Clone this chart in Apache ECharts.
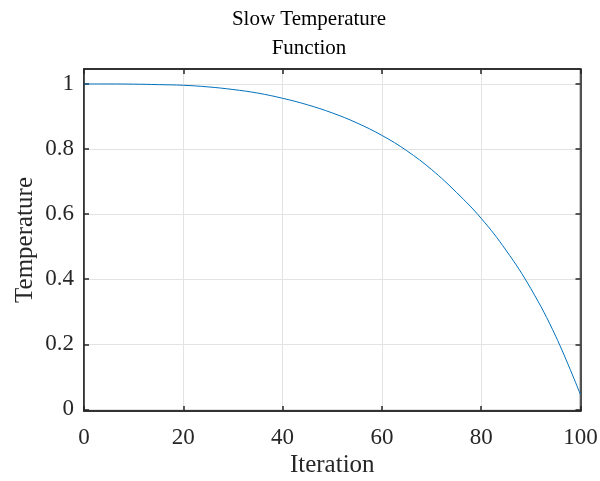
<!DOCTYPE html>
<html>
<head>
<meta charset="utf-8">
<script src="https://cdn.jsdelivr.net/npm/echarts@6/dist/echarts.min.js"></script>
<style>html,body{margin:0;padding:0;background:#fff}#c{width:600px;height:481px}</style>
</head>
<body>
<div id="c"></div>
<script>
const iterations = [0,5,10,15,20,25,30,35,40,45,50,55,60,65,70,75,80,85,90,95,100];
const temperature = [1.000,1.000,0.9995,0.998,0.996,0.991,0.983,0.972,0.956,0.936,0.911,0.880,0.842,0.795,0.737,0.667,0.587,0.489,0.371,0.225,0.045];
const yTicks = [0,0.2,0.4,0.6,0.8,1];
const xTicks = [0,20,40,60,80,100];
const titleText = 'Slow Temperature\nFunction';

const font = 'Liberation Serif';
const axisColor = '#262626';
const chart = echarts.init(document.getElementById('c'), null, {renderer:'canvas'});
const fmtY = v => (Math.abs(v) < 1e-9 ? '0' : String(+v.toFixed(1)));
chart.setOption({
  animation:false,
  backgroundColor:'#fff',
  title:{text:titleText,left:304,textAlign:'center',top:0,
    textStyle:{fontFamily:font,fontSize:21,fontWeight:'normal',color:'#000',lineHeight:29}},
  grid:{left:84,right:19.5,top:69,bottom:70,outerBoundsMode:'none',containLabel:false,show:true,borderColor:axisColor,borderWidth:1.5,backgroundColor:'transparent'},
  xAxis:[{type:'value',min:0,max:100,interval:20,position:'bottom',
    name:'Iteration',nameLocation:'middle',nameGap:42,nameMoveOverlap:false,
    nameTextStyle:{fontFamily:font,fontSize:25,color:'#262626'},
    axisLine:{show:true,onZero:false,lineStyle:{color:axisColor,width:1.5}},
    axisTick:{show:true,inside:true,length:5,lineStyle:{color:axisColor,width:1.5}},
    axisLabel:{fontFamily:font,fontSize:23,color:'#262626',margin:15,hideOverlap:false},
    splitLine:{show:true,lineStyle:{color:'#e3e3e3',width:1}}},
   {type:'value',min:0,max:100,interval:20,position:'top',
    axisLine:{show:true,onZero:false,lineStyle:{color:axisColor,width:1.5}},
    axisTick:{show:true,inside:true,length:5,lineStyle:{color:axisColor,width:1.5}},
    axisLabel:{show:false},splitLine:{show:false}}],
  yAxis:[{type:'value',min:-0.005,max:1.046,
    name:'Temperature',nameLocation:'middle',nameGap:46,nameMoveOverlap:false,
    nameTextStyle:{fontFamily:font,fontSize:25,color:'#262626'},
    axisLine:{show:true,onZero:false,lineStyle:{color:axisColor,width:1.5}},
    axisTick:{show:true,inside:true,length:5,customValues:yTicks,lineStyle:{color:axisColor,width:1.5}},
    axisLabel:{fontFamily:font,fontSize:23,color:'#262626',margin:10,customValues:yTicks,formatter:fmtY},
    splitLine:{show:true,lineStyle:{color:'#e3e3e3',width:1}}},
   {type:'value',min:-0.005,max:1.046,position:'right',
    axisLine:{show:true,onZero:false,lineStyle:{color:axisColor,width:1.5}},
    axisTick:{show:true,inside:true,length:5,customValues:yTicks,lineStyle:{color:axisColor,width:1.5}},
    axisLabel:{show:false},splitLine:{show:false}}],
  series:[{type:'line',xAxisIndex:0,yAxisIndex:0,smooth:0.4,showSymbol:false,
    data:iterations.map((x,i)=>[x,temperature[i]]),
    lineStyle:{color:'#0072BD',width:1}}]
});
</script>
</body>
</html>
